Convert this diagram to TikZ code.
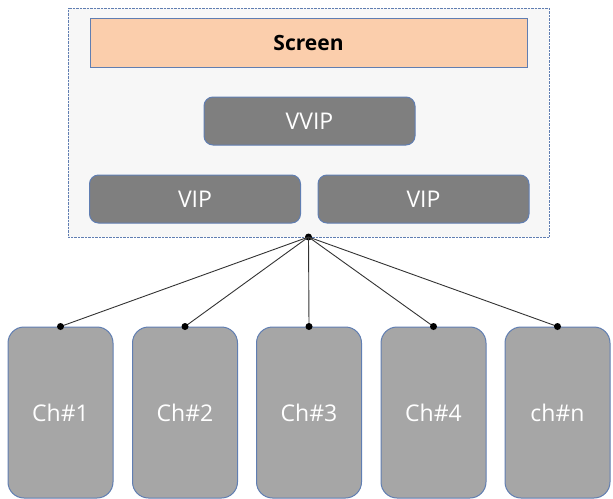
\documentclass[tikz,border=0pt]{standalone}
\usepackage{fontspec}
\setmainfont{Open Sans}
\usetikzlibrary{positioning, calc}
\definecolor{screenpeach}{RGB}{251, 206, 172}
\definecolor{edgeblue}{RGB}{96, 126, 178}
\definecolor{vipgray}{RGB}{127, 127, 127}
\definecolor{changray}{RGB}{166, 166, 166}
\definecolor{panelbg}{RGB}{247, 247, 247}

\begin{document}
\begin{tikzpicture}[
        x=1pt, y=-1pt,
        vip/.style={rectangle, rounded corners=9pt, draw=edgeblue, line width=1pt, fill=vipgray, minimum width=211pt, minimum height=48pt, inner sep=0pt, text=white, font=\fontsize{23}{26}\selectfont},
        chan/.style={rectangle, rounded corners=16pt, draw=edgeblue, line width=1pt, fill=changray, minimum width=105pt, minimum height=171pt, inner sep=0pt, text=white, font=\fontsize{23}{26}\selectfont},
        dot/.style={circle, fill=black, inner sep=0pt, minimum size=7pt},
        link/.style={draw=black!80, line width=0.9pt}
    ]
        \useasboundingbox (0,0) rectangle (613,498);

        % panel
        \node[rectangle, draw=edgeblue, densely dotted, fill=panelbg, minimum width=481pt, minimum height=229pt, inner sep=0pt] (panel) at (308.5,122.5) {};
        \node[rectangle, draw=edgeblue, line width=1pt, fill=screenpeach, minimum width=437pt, minimum height=49pt, inner sep=0pt, font=\fontsize{21}{24}\selectfont\bfseries] (screen) at (308.5,42.5) {Screen};
        \node[vip] (vvip) at (309.5,121) {VVIP};
        \node[vip] (vipl) at (195,199) {VIP};
        \node[vip] (vipr) at (423.5,199) {VIP};

        % channels
        \node[chan] (ch1) at (60.5,412.5) {Ch\#1};
        \node[chan] (ch2) at (185,412.5) {Ch\#2};
        \node[chan] (ch3) at (309,412.5) {Ch\#3};
        \node[chan] (ch4) at (433.5,412.5) {Ch\#4};
        \node[chan] (chn) at (557.5,412.5) {ch\#n};

        \node[dot] (hub) at (308.5,237) {};
        \foreach \c in {ch1, ch2, ch3, ch4, chn} {
            \draw[link] (hub.center) -- (\c.north);
            \node[dot] at (\c.north) {};
        }
\end{tikzpicture}
\end{document}
